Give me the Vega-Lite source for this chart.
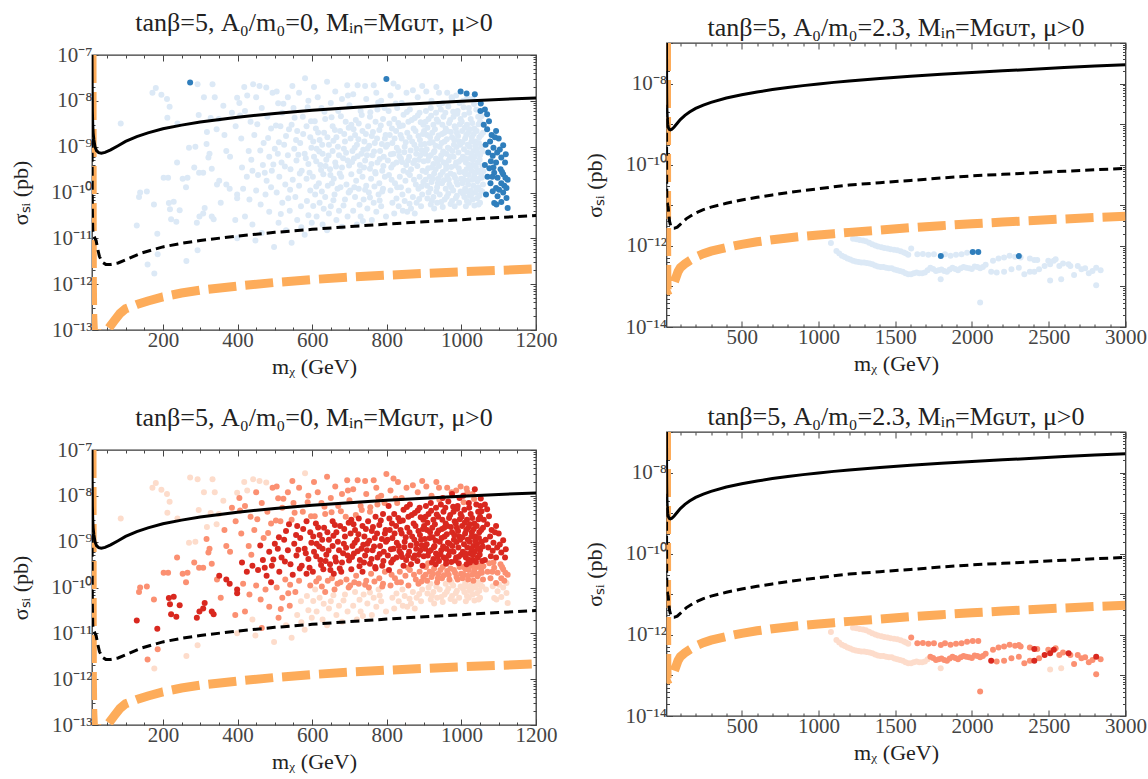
{
  "$schema": "https://vega.github.io/schema/vega-lite/v6.json",
  "background": "white",
  "padding": {"left": 9, "top": 8, "right": 5, "bottom": 5},
  "config": {
    "font": "Liberation Serif",
    "view": {"stroke": "#3a3a3a", "strokeWidth": 1.3},
    "title": {"font": "Liberation Serif", "fontSize": 26, "fontWeight": "normal", "color": "#222", "anchor": "middle"},
    "axis": {"grid": false, "domain": false, "tickColor": "#444", "tickWidth": 1, "labelFont": "Liberation Serif", "labelFontSize": 21, "labelColor": "#444", "titleFont": "Liberation Serif", "titleFontSize": 22, "titleFontWeight": "normal", "titleColor": "#222", "labelFlush": false, "labelOverlap": false}
  },
  "datasets": {
    "curves": [
      {"c": "floor", "m": 10, "s": 1e-7}, {"c": "floor", "m": 10.3, "s": 1e-9}, {"c": "floor", "m": 10.6, "s": 1e-11}, {"c": "floor", "m": 11, "s": 1e-12}, {"c": "floor", "m": 12, "s": 2e-13}, {"c": "floor", "m": 14, "s": 8.5e-14}, {"c": "floor", "m": 25, "s": 8e-14}, {"c": "floor", "m": 40, "s": 8.5e-14}, {"c": "floor", "m": 55, "s": 1.1e-13}, {"c": "floor", "m": 70, "s": 1.6e-13}, {"c": "floor", "m": 85, "s": 2.3e-13}, {"c": "floor", "m": 100, "s": 2.9e-13}, {"c": "floor", "m": 130, "s": 3.6e-13}, {"c": "floor", "m": 160, "s": 4.3e-13}, {"c": "floor", "m": 200, "s": 5.3e-13}, {"c": "floor", "m": 250, "s": 6.4e-13}, {"c": "floor", "m": 300, "s": 7.4e-13}, {"c": "floor", "m": 400, "s": 9.1e-13}, {"c": "floor", "m": 500, "s": 1.09e-12}, {"c": "floor", "m": 600, "s": 1.26e-12}, {"c": "floor", "m": 700, "s": 1.42e-12}, {"c": "floor", "m": 800, "s": 1.57e-12}, {"c": "floor", "m": 900, "s": 1.72e-12}, {"c": "floor", "m": 1000, "s": 1.86e-12}, {"c": "floor", "m": 1100, "s": 2e-12}, {"c": "floor", "m": 1200, "s": 2.15e-12}, {"c": "floor", "m": 1400, "s": 2.45e-12}, {"c": "floor", "m": 1600, "s": 2.8e-12}, {"c": "floor", "m": 1800, "s": 3.15e-12}, {"c": "floor", "m": 2000, "s": 3.5e-12}, {"c": "floor", "m": 2200, "s": 3.85e-12}, {"c": "floor", "m": 2400, "s": 4.2e-12}, {"c": "floor", "m": 2600, "s": 4.6e-12}, {"c": "floor", "m": 2800, "s": 5e-12}, {"c": "floor", "m": 3000, "s": 5.4e-12},
      {"c": "proj", "m": 10, "s": 3e-9}, {"c": "proj", "m": 10.5, "s": 2e-10}, {"c": "proj", "m": 11, "s": 4e-11}, {"c": "proj", "m": 12, "s": 1.5e-11}, {"c": "proj", "m": 15, "s": 1.15e-11}, {"c": "proj", "m": 18, "s": 1e-11}, {"c": "proj", "m": 21, "s": 9e-12}, {"c": "proj", "m": 25, "s": 6e-12}, {"c": "proj", "m": 30, "s": 4e-12}, {"c": "proj", "m": 38, "s": 3e-12}, {"c": "proj", "m": 47, "s": 2.7e-12}, {"c": "proj", "m": 60, "s": 2.7e-12}, {"c": "proj", "m": 80, "s": 2.9e-12}, {"c": "proj", "m": 100, "s": 3.4e-12}, {"c": "proj", "m": 140, "s": 4.7e-12}, {"c": "proj", "m": 200, "s": 6.5e-12}, {"c": "proj", "m": 250, "s": 7.8e-12}, {"c": "proj", "m": 300, "s": 9e-12}, {"c": "proj", "m": 400, "s": 1.12e-11}, {"c": "proj", "m": 500, "s": 1.35e-11}, {"c": "proj", "m": 600, "s": 1.57e-11}, {"c": "proj", "m": 700, "s": 1.8e-11}, {"c": "proj", "m": 800, "s": 2.05e-11}, {"c": "proj", "m": 900, "s": 2.3e-11}, {"c": "proj", "m": 1000, "s": 2.55e-11}, {"c": "proj", "m": 1100, "s": 2.85e-11}, {"c": "proj", "m": 1200, "s": 3.15e-11}, {"c": "proj", "m": 1400, "s": 3.6e-11}, {"c": "proj", "m": 1600, "s": 4.1e-11}, {"c": "proj", "m": 1800, "s": 4.7e-11}, {"c": "proj", "m": 2000, "s": 5.3e-11}, {"c": "proj", "m": 2200, "s": 5.8e-11}, {"c": "proj", "m": 2400, "s": 6.3e-11}, {"c": "proj", "m": 2600, "s": 6.9e-11}, {"c": "proj", "m": 2800, "s": 7.5e-11}, {"c": "proj", "m": 3000, "s": 8.1e-11},
      {"c": "limit", "m": 10, "s": 1e-7}, {"c": "limit", "m": 10.5, "s": 2e-8}, {"c": "limit", "m": 11, "s": 6e-9}, {"c": "limit", "m": 12, "s": 3e-9}, {"c": "limit", "m": 13, "s": 2e-9}, {"c": "limit", "m": 15, "s": 1.4e-9}, {"c": "limit", "m": 18, "s": 1e-9}, {"c": "limit", "m": 22, "s": 8.2e-10}, {"c": "limit", "m": 28, "s": 7.4e-10}, {"c": "limit", "m": 35, "s": 7.2e-10}, {"c": "limit", "m": 45, "s": 7.5e-10}, {"c": "limit", "m": 60, "s": 8.5e-10}, {"c": "limit", "m": 80, "s": 1.05e-9}, {"c": "limit", "m": 100, "s": 1.3e-9}, {"c": "limit", "m": 130, "s": 1.65e-9}, {"c": "limit", "m": 160, "s": 2e-9}, {"c": "limit", "m": 200, "s": 2.45e-9}, {"c": "limit", "m": 250, "s": 2.95e-9}, {"c": "limit", "m": 300, "s": 3.45e-9}, {"c": "limit", "m": 400, "s": 4.4e-9}, {"c": "limit", "m": 500, "s": 5.3e-9}, {"c": "limit", "m": 600, "s": 6.2e-9}, {"c": "limit", "m": 700, "s": 7.1e-9}, {"c": "limit", "m": 800, "s": 8e-9}, {"c": "limit", "m": 900, "s": 8.9e-9}, {"c": "limit", "m": 1000, "s": 9.8e-9}, {"c": "limit", "m": 1100, "s": 1.07e-8}, {"c": "limit", "m": 1200, "s": 1.16e-8}, {"c": "limit", "m": 1400, "s": 1.34e-8}, {"c": "limit", "m": 1600, "s": 1.52e-8}, {"c": "limit", "m": 1800, "s": 1.7e-8}, {"c": "limit", "m": 2000, "s": 1.88e-8}, {"c": "limit", "m": 2200, "s": 2.06e-8}, {"c": "limit", "m": 2400, "s": 2.25e-8}, {"c": "limit", "m": 2600, "s": 2.5e-8}, {"c": "limit", "m": 2800, "s": 2.7e-8}, {"c": "limit", "m": 3000, "s": 2.9e-8}
    ],
    "scanL": [
      {"m": 87, "s": 3.2e-9, "b": 0, "r": 1}, {"m": 172, "s": 1.5e-8, "b": 0, "r": 1}, {"m": 181, "s": 1.9e-8, "b": 0, "r": 1}, {"m": 196, "s": 1.35e-8, "b": 0, "r": 1}, {"m": 211, "s": 1.1e-8, "b": 0, "r": 1}, {"m": 218, "s": 7.4e-9, "b": 0, "r": 1}, {"m": 212, "s": 4.3e-9, "b": 0, "r": 1}, {"m": 239, "s": 3.2e-9, "b": 0, "r": 1}, {"m": 270, "s": 9.5e-10, "b": 0, "r": 1}, {"m": 287, "s": 1e-9, "b": 0, "r": 1}, {"m": 273, "s": 2.5e-8, "b": 1, "r": 1}, {"m": 293, "s": 2.3e-8, "b": 0, "r": 1}, {"m": 296, "s": 4.9e-9, "b": 0, "r": 1}, {"m": 284, "s": 3.5e-10, "b": 0, "r": 2}, {"m": 297, "s": 2.7e-10, "b": 0, "r": 2}, {"m": 266, "s": 2.1e-10, "b": 0, "r": 2}, {"m": 214, "s": 2.1e-10, "b": 0, "r": 2}, {"m": 253, "s": 2e-10, "b": 0, "r": 2}, {"m": 139, "s": 1e-10, "b": 0, "r": 2}, {"m": 136, "s": 8e-11, "b": 0, "r": 2}, {"m": 157, "s": 1.05e-10, "b": 0, "r": 2},
      {"m": 202, "s": 2.1e-10, "b": 0, "r": 2}, {"m": 238, "s": 4.5e-10, "b": 0, "r": 2}, {"m": 262, "s": 1.3e-10, "b": 0, "r": 2}, {"m": 317, "s": 1.15e-9, "b": 0, "r": 2}, {"m": 331, "s": 3.3e-10, "b": 0, "r": 2}, {"m": 176, "s": 5.5e-11, "b": 0, "r": 2}, {"m": 344, "s": 2.4e-9, "b": 0, "r": 1}, {"m": 328, "s": 4.2e-9, "b": 0, "r": 1},
      {"m": 216, "s": 5.9e-11, "b": 0, "r": 3}, {"m": 229, "s": 6.3e-11, "b": 0, "r": 3}, {"m": 219, "s": 4.3e-11, "b": 0, "r": 3}, {"m": 245, "s": 4.1e-11, "b": 0, "r": 3}, {"m": 222, "s": 2.6e-11, "b": 0, "r": 3}, {"m": 236, "s": 2.3e-11, "b": 0, "r": 3}, {"m": 291, "s": 2.2e-11, "b": 0, "r": 3}, {"m": 298, "s": 3e-11, "b": 0, "r": 3}, {"m": 308, "s": 3.5e-11, "b": 0, "r": 3}, {"m": 312, "s": 4.6e-11, "b": 0, "r": 3}, {"m": 331, "s": 3e-11, "b": 0, "r": 3}, {"m": 336, "s": 2.6e-11, "b": 0, "r": 3}, {"m": 130, "s": 1.9e-11, "b": 0, "r": 3}, {"m": 185, "s": 1.26e-11, "b": 0, "r": 3},
      {"m": 159, "s": 2.7e-12, "b": 0, "r": 2}, {"m": 177, "s": 1.7e-12, "b": 0, "r": 1}, {"m": 186, "s": 4.5e-12, "b": 0, "r": 2}, {"m": 263, "s": 3.2e-12, "b": 0, "r": 1}, {"m": 293, "s": 5.5e-12, "b": 0, "r": 1}, {"m": 322, "s": 5.8e-10, "b": 0, "r": 2}, {"m": 308, "s": 2.7e-10, "b": 0, "r": 2},
      {"m": 310, "s": 1.2e-8, "b": 0, "r": 1}, {"m": 318, "s": 2.1e-9, "b": 0, "r": 1}, {"m": 325, "s": 7e-10, "b": 0, "r": 2}, {"m": 333, "s": 2.3e-8, "b": 0, "r": 1}, {"m": 339, "s": 1.2e-8, "b": 0, "r": 1}, {"m": 345, "s": 1.5e-10, "b": 0, "r": 2}, {"m": 350, "s": 4e-9, "b": 0, "r": 1}, {"m": 355, "s": 6e-11, "b": 0, "r": 2}, {"m": 362, "s": 7.8e-9, "b": 0, "r": 1}, {"m": 365, "s": 1.8e-9, "b": 0, "r": 2}, {"m": 370, "s": 8e-10, "b": 0, "r": 2}, {"m": 351, "s": 1.8e-10, "b": 0, "r": 3}, {"m": 370, "s": 1.5e-10, "b": 0, "r": 3}, {"m": 379, "s": 1.2e-10, "b": 0, "r": 3}, {"m": 399, "s": 9e-11, "b": 0, "r": 3}, {"m": 399, "s": 7.5e-11, "b": 0, "r": 3}, {"m": 394, "s": 2.5e-11, "b": 0, "r": 2}, {"m": 399, "s": 1e-11, "b": 0, "r": 1}, {"m": 399, "s": 1.17e-8, "b": 0, "r": 1}, {"m": 385, "s": 5.5e-9, "b": 0, "r": 2}, {"m": 395, "s": 2.8e-9, "b": 0, "r": 2}, {"m": 380, "s": 6e-10, "b": 0, "r": 2},
      {"m": 418, "s": 2e-8, "b": 0, "r": 1}, {"m": 442, "s": 2.3e-8, "b": 0, "r": 1}, {"m": 459, "s": 2.1e-8, "b": 0, "r": 1}, {"m": 477, "s": 1.95e-8, "b": 0, "r": 1}, {"m": 494, "s": 1.5e-8, "b": 0, "r": 2}, {"m": 405, "s": 9e-9, "b": 0, "r": 2}, {"m": 420, "s": 6e-9, "b": 0, "r": 2}, {"m": 435, "s": 3.5e-9, "b": 0, "r": 2}, {"m": 450, "s": 1.2e-8, "b": 0, "r": 2}, {"m": 465, "s": 7e-9, "b": 0, "r": 2}, {"m": 480, "s": 4.5e-9, "b": 0, "r": 2}, {"m": 490, "s": 2.5e-9, "b": 0, "r": 2}, {"m": 410, "s": 1.5e-9, "b": 0, "r": 2}, {"m": 430, "s": 8e-10, "b": 0, "r": 2}, {"m": 445, "s": 1.8e-9, "b": 0, "r": 2}, {"m": 470, "s": 1.2e-9, "b": 0, "r": 2}, {"m": 485, "s": 6e-10, "b": 0, "r": 3}, {"m": 500, "s": 9e-10, "b": 0, "r": 3}, {"m": 412, "s": 3.5e-10, "b": 0, "r": 3}, {"m": 425, "s": 2.2e-10, "b": 0, "r": 3}, {"m": 440, "s": 3e-10, "b": 0, "r": 3}, {"m": 455, "s": 2.4e-10, "b": 0, "r": 3}, {"m": 468, "s": 4e-10, "b": 0, "r": 3}, {"m": 478, "s": 1.8e-10, "b": 0, "r": 3}, {"m": 492, "s": 3e-10, "b": 0, "r": 3}, {"m": 415, "s": 1.2e-10, "b": 0, "r": 2}, {"m": 432, "s": 7e-11, "b": 0, "r": 2}, {"m": 450, "s": 1.1e-10, "b": 0, "r": 2}, {"m": 462, "s": 5.5e-11, "b": 0, "r": 2}, {"m": 475, "s": 9e-11, "b": 0, "r": 2}, {"m": 490, "s": 1.3e-10, "b": 0, "r": 3}, {"m": 420, "s": 3e-11, "b": 0, "r": 2}, {"m": 440, "s": 2e-11, "b": 0, "r": 1}, {"m": 448, "s": 9e-12, "b": 0, "r": 1}, {"m": 465, "s": 1.3e-11, "b": 0, "r": 2}, {"m": 485, "s": 3.8e-11, "b": 0, "r": 2}, {"m": 498, "s": 6.5e-12, "b": 0, "r": 1},
      {"m": 407, "s": 4.8e-9, "b": 0, "r": 2}, {"m": 426, "s": 1.3e-8, "b": 0, "r": 1}, {"m": 437, "s": 5.2e-10, "b": 0, "r": 2}, {"m": 453, "s": 3.1e-9, "b": 0, "r": 2}, {"m": 461, "s": 8.3e-10, "b": 0, "r": 3}, {"m": 473, "s": 2.7e-10, "b": 0, "r": 3}, {"m": 482, "s": 1.55e-9, "b": 0, "r": 2}, {"m": 496, "s": 4.1e-10, "b": 0, "r": 3},
      {"m": 509, "s": 8.9e-9, "b": 0, "r": 2}, {"m": 547, "s": 2.1e-8, "b": 0, "r": 2}, {"m": 581, "s": 3.1e-8, "b": 0, "r": 1}, {"m": 505, "s": 1.6e-8, "b": 0, "r": 2}, {"m": 520, "s": 5.5e-9, "b": 0, "r": 2}, {"m": 535, "s": 1.2e-8, "b": 0, "r": 2}, {"m": 550, "s": 7e-9, "b": 0, "r": 2}, {"m": 565, "s": 1.5e-8, "b": 0, "r": 2}, {"m": 575, "s": 4.5e-9, "b": 0, "r": 2}, {"m": 590, "s": 1e-8, "b": 0, "r": 2}, {"m": 515, "s": 2.8e-9, "b": 0, "r": 2}, {"m": 530, "s": 1.7e-9, "b": 0, "r": 3}, {"m": 545, "s": 3e-9, "b": 0, "r": 2}, {"m": 560, "s": 2.2e-9, "b": 0, "r": 3}, {"m": 585, "s": 2.8e-9, "b": 0, "r": 3}, {"m": 595, "s": 1.6e-9, "b": 0, "r": 3}, {"m": 508, "s": 7e-10, "b": 0, "r": 3}, {"m": 518, "s": 4.5e-10, "b": 0, "r": 3}, {"m": 525, "s": 1.1e-9, "b": 0, "r": 3}, {"m": 535, "s": 6.5e-10, "b": 0, "r": 3}, {"m": 542, "s": 3.2e-10, "b": 0, "r": 3}, {"m": 552, "s": 9e-10, "b": 0, "r": 3}, {"m": 558, "s": 5e-10, "b": 0, "r": 3}, {"m": 568, "s": 1.2e-9, "b": 0, "r": 3}, {"m": 572, "s": 3e-10, "b": 0, "r": 3}, {"m": 580, "s": 7e-10, "b": 0, "r": 3}, {"m": 590, "s": 4.2e-10, "b": 0, "r": 3}, {"m": 598, "s": 9.5e-10, "b": 0, "r": 3}, {"m": 512, "s": 2.2e-10, "b": 0, "r": 3}, {"m": 528, "s": 1.5e-10, "b": 0, "r": 2}, {"m": 548, "s": 1.9e-10, "b": 0, "r": 3}, {"m": 565, "s": 1.4e-10, "b": 0, "r": 2}, {"m": 585, "s": 2e-10, "b": 0, "r": 3}, {"m": 595, "s": 1.1e-10, "b": 0, "r": 2}, {"m": 505, "s": 1e-10, "b": 0, "r": 2}, {"m": 520, "s": 6e-11, "b": 0, "r": 2}, {"m": 540, "s": 4e-11, "b": 0, "r": 2}, {"m": 555, "s": 8e-11, "b": 0, "r": 2}, {"m": 570, "s": 5e-11, "b": 0, "r": 1}, {"m": 590, "s": 3.2e-11, "b": 0, "r": 1}, {"m": 510, "s": 2.2e-11, "b": 0, "r": 2}, {"m": 530, "s": 1.5e-11, "b": 0, "r": 1}, {"m": 560, "s": 2.5e-11, "b": 0, "r": 1}, {"m": 580, "s": 1.2e-11, "b": 0, "r": 1}, {"m": 545, "s": 8e-12, "b": 0, "r": 1},
      {"m": 503, "s": 2.9e-9, "b": 0, "r": 2}, {"m": 511, "s": 1.25e-9, "b": 0, "r": 3}, {"m": 523, "s": 8.6e-9, "b": 0, "r": 2}, {"m": 527, "s": 3.7e-10, "b": 0, "r": 3}, {"m": 538, "s": 2.4e-9, "b": 0, "r": 3}, {"m": 541, "s": 1.15e-10, "b": 0, "r": 2}, {"m": 553, "s": 4.3e-9, "b": 0, "r": 2}, {"m": 557, "s": 1.4e-9, "b": 0, "r": 3}, {"m": 563, "s": 6.7e-10, "b": 0, "r": 3}, {"m": 567, "s": 2.6e-10, "b": 0, "r": 3}, {"m": 576, "s": 1.9e-9, "b": 0, "r": 3}, {"m": 583, "s": 5.6e-10, "b": 0, "r": 3}, {"m": 588, "s": 7.2e-9, "b": 0, "r": 2}, {"m": 593, "s": 2.7e-10, "b": 0, "r": 3}, {"m": 597, "s": 3.6e-9, "b": 0, "r": 2}, {"m": 516, "s": 3.4e-11, "b": 0, "r": 2}, {"m": 536, "s": 7.5e-11, "b": 0, "r": 2}, {"m": 571, "s": 1.75e-11, "b": 0, "r": 1}, {"m": 586, "s": 6.5e-11, "b": 0, "r": 1}, {"m": 599, "s": 2.2e-11, "b": 0, "r": 1},
      {"m": 605, "s": 2e-8, "b": 0, "r": 2}, {"m": 640, "s": 2.6e-8, "b": 0, "r": 2}, {"m": 662, "s": 1.6e-8, "b": 0, "r": 2}, {"m": 694, "s": 2.2e-8, "b": 0, "r": 2}, {"m": 615, "s": 1.2e-8, "b": 0, "r": 2}, {"m": 625, "s": 7e-9, "b": 0, "r": 2}, {"m": 635, "s": 4e-9, "b": 0, "r": 2}, {"m": 650, "s": 9e-9, "b": 0, "r": 2}, {"m": 670, "s": 6e-9, "b": 0, "r": 2}, {"m": 680, "s": 1.1e-8, "b": 0, "r": 2}, {"m": 690, "s": 3.5e-9, "b": 0, "r": 2}, {"m": 700, "s": 8e-9, "b": 0, "r": 2}, {"m": 610, "s": 2.5e-9, "b": 0, "r": 3}, {"m": 620, "s": 1.4e-9, "b": 0, "r": 3}, {"m": 632, "s": 2e-9, "b": 0, "r": 3}, {"m": 645, "s": 1.1e-9, "b": 0, "r": 3}, {"m": 655, "s": 2.8e-9, "b": 0, "r": 3}, {"m": 665, "s": 1.6e-9, "b": 0, "r": 3}, {"m": 675, "s": 2.2e-9, "b": 0, "r": 3}, {"m": 688, "s": 1.3e-9, "b": 0, "r": 3}, {"m": 698, "s": 2.6e-9, "b": 0, "r": 3}, {"m": 605, "s": 6e-10, "b": 0, "r": 3}, {"m": 612, "s": 9e-10, "b": 0, "r": 3}, {"m": 622, "s": 4e-10, "b": 0, "r": 3}, {"m": 628, "s": 7e-10, "b": 0, "r": 3}, {"m": 638, "s": 5.2e-10, "b": 0, "r": 3}, {"m": 648, "s": 3.2e-10, "b": 0, "r": 3}, {"m": 655, "s": 8e-10, "b": 0, "r": 3}, {"m": 662, "s": 4.5e-10, "b": 0, "r": 3}, {"m": 672, "s": 6.5e-10, "b": 0, "r": 3}, {"m": 680, "s": 3.5e-10, "b": 0, "r": 3}, {"m": 685, "s": 9e-10, "b": 0, "r": 3}, {"m": 695, "s": 5e-10, "b": 0, "r": 3}, {"m": 602, "s": 2.2e-10, "b": 0, "r": 3}, {"m": 618, "s": 1.6e-10, "b": 0, "r": 2}, {"m": 630, "s": 2.5e-10, "b": 0, "r": 3}, {"m": 642, "s": 1.4e-10, "b": 0, "r": 2}, {"m": 658, "s": 2e-10, "b": 0, "r": 3}, {"m": 668, "s": 1.2e-10, "b": 0, "r": 2}, {"m": 678, "s": 2.2e-10, "b": 0, "r": 3}, {"m": 692, "s": 1.5e-10, "b": 0, "r": 2}, {"m": 608, "s": 9e-11, "b": 0, "r": 1}, {"m": 620, "s": 6e-11, "b": 0, "r": 1}, {"m": 635, "s": 8e-11, "b": 0, "r": 2}, {"m": 650, "s": 5e-11, "b": 0, "r": 1}, {"m": 660, "s": 9e-11, "b": 0, "r": 2}, {"m": 672, "s": 4e-11, "b": 0, "r": 1}, {"m": 688, "s": 7e-11, "b": 0, "r": 1}, {"m": 698, "s": 1e-10, "b": 0, "r": 2}, {"m": 612, "s": 3e-11, "b": 0, "r": 1}, {"m": 628, "s": 2e-11, "b": 0, "r": 1}, {"m": 645, "s": 3.5e-11, "b": 0, "r": 1}, {"m": 665, "s": 2.5e-11, "b": 0, "r": 1}, {"m": 680, "s": 1.8e-11, "b": 0, "r": 1}, {"m": 695, "s": 3e-11, "b": 0, "r": 1}, {"m": 640, "s": 1.5e-11, "b": 0, "r": 1},
      {"m": 603, "s": 1.3e-9, "b": 0, "r": 3}, {"m": 607, "s": 3.6e-9, "b": 0, "r": 2}, {"m": 611, "s": 4.8e-10, "b": 0, "r": 3}, {"m": 616, "s": 2.05e-9, "b": 0, "r": 3}, {"m": 619, "s": 7.8e-10, "b": 0, "r": 3}, {"m": 624, "s": 3.1e-10, "b": 0, "r": 3}, {"m": 627, "s": 1.1e-9, "b": 0, "r": 3}, {"m": 633, "s": 5.8e-9, "b": 0, "r": 2}, {"m": 636, "s": 3.8e-10, "b": 0, "r": 3}, {"m": 641, "s": 1.6e-9, "b": 0, "r": 3}, {"m": 644, "s": 6.4e-10, "b": 0, "r": 3}, {"m": 649, "s": 2.4e-10, "b": 0, "r": 3}, {"m": 652, "s": 4.4e-9, "b": 0, "r": 2}, {"m": 657, "s": 1.35e-9, "b": 0, "r": 3}, {"m": 661, "s": 2.3e-9, "b": 0, "r": 3}, {"m": 664, "s": 3.7e-10, "b": 0, "r": 3}, {"m": 669, "s": 1e-9, "b": 0, "r": 3}, {"m": 674, "s": 2.6e-10, "b": 0, "r": 3}, {"m": 677, "s": 4.6e-9, "b": 0, "r": 2}, {"m": 683, "s": 5.6e-10, "b": 0, "r": 3}, {"m": 686, "s": 1.9e-9, "b": 0, "r": 3}, {"m": 691, "s": 7.4e-10, "b": 0, "r": 3}, {"m": 696, "s": 1.3e-8, "b": 0, "r": 2}, {"m": 699, "s": 3.9e-10, "b": 0, "r": 3}, {"m": 611, "s": 1.35e-10, "b": 0, "r": 2}, {"m": 626, "s": 1.05e-10, "b": 0, "r": 2}, {"m": 653, "s": 1.6e-10, "b": 0, "r": 2}, {"m": 676, "s": 1.3e-10, "b": 0, "r": 2}, {"m": 684, "s": 5.2e-11, "b": 0, "r": 1}, {"m": 657, "s": 6.8e-11, "b": 0, "r": 1}, {"m": 631, "s": 4.4e-11, "b": 0, "r": 1}, {"m": 603, "s": 5.1e-11, "b": 0, "r": 1},
      {"m": 722, "s": 2.2e-8, "b": 0, "r": 2}, {"m": 742, "s": 2.1e-8, "b": 0, "r": 2}, {"m": 765, "s": 2.2e-8, "b": 0, "r": 2}, {"m": 772, "s": 1.5e-8, "b": 0, "r": 2}, {"m": 785, "s": 1e-8, "b": 0, "r": 2}, {"m": 799, "s": 3e-8, "b": 1, "r": 2}, {"m": 710, "s": 1.4e-8, "b": 0, "r": 2}, {"m": 730, "s": 6e-9, "b": 0, "r": 2}, {"m": 745, "s": 1.1e-8, "b": 0, "r": 2}, {"m": 755, "s": 4.5e-9, "b": 0, "r": 2}, {"m": 775, "s": 6.5e-9, "b": 0, "r": 2}, {"m": 790, "s": 4e-9, "b": 0, "r": 3}, {"m": 705, "s": 3e-9, "b": 0, "r": 3}, {"m": 715, "s": 1.8e-9, "b": 0, "r": 3}, {"m": 725, "s": 3.2e-9, "b": 0, "r": 3}, {"m": 735, "s": 2.2e-9, "b": 0, "r": 3}, {"m": 740, "s": 1.3e-9, "b": 0, "r": 3}, {"m": 750, "s": 2.8e-9, "b": 0, "r": 3}, {"m": 760, "s": 1.7e-9, "b": 0, "r": 3}, {"m": 770, "s": 3.5e-9, "b": 0, "r": 3}, {"m": 780, "s": 2.3e-9, "b": 0, "r": 3}, {"m": 795, "s": 1.5e-9, "b": 0, "r": 3}, {"m": 708, "s": 8e-10, "b": 0, "r": 3}, {"m": 712, "s": 5.5e-10, "b": 0, "r": 3}, {"m": 720, "s": 1.1e-9, "b": 0, "r": 3}, {"m": 728, "s": 4e-10, "b": 0, "r": 3}, {"m": 732, "s": 7e-10, "b": 0, "r": 3}, {"m": 742, "s": 5e-10, "b": 0, "r": 3}, {"m": 748, "s": 9e-10, "b": 0, "r": 3}, {"m": 755, "s": 3.3e-10, "b": 0, "r": 3}, {"m": 762, "s": 6.5e-10, "b": 0, "r": 3}, {"m": 768, "s": 1.2e-9, "b": 0, "r": 3}, {"m": 775, "s": 4.5e-10, "b": 0, "r": 3}, {"m": 782, "s": 8e-10, "b": 0, "r": 3}, {"m": 788, "s": 3e-10, "b": 0, "r": 3}, {"m": 792, "s": 6e-10, "b": 0, "r": 3}, {"m": 798, "s": 1e-9, "b": 0, "r": 3}, {"m": 705, "s": 2.5e-10, "b": 0, "r": 3}, {"m": 718, "s": 1.8e-10, "b": 0, "r": 2}, {"m": 735, "s": 2.2e-10, "b": 0, "r": 3}, {"m": 745, "s": 1.4e-10, "b": 0, "r": 2}, {"m": 758, "s": 2e-10, "b": 0, "r": 2}, {"m": 770, "s": 2.6e-10, "b": 0, "r": 3}, {"m": 780, "s": 1.6e-10, "b": 0, "r": 2}, {"m": 795, "s": 2.2e-10, "b": 0, "r": 2}, {"m": 702, "s": 1.1e-10, "b": 0, "r": 2}, {"m": 715, "s": 8e-11, "b": 0, "r": 1}, {"m": 725, "s": 1.2e-10, "b": 0, "r": 2}, {"m": 738, "s": 7e-11, "b": 0, "r": 1}, {"m": 752, "s": 1e-10, "b": 0, "r": 2}, {"m": 765, "s": 6e-11, "b": 0, "r": 1}, {"m": 778, "s": 9e-11, "b": 0, "r": 1}, {"m": 790, "s": 1.2e-10, "b": 0, "r": 2}, {"m": 710, "s": 4e-11, "b": 0, "r": 1}, {"m": 730, "s": 3e-11, "b": 0, "r": 1}, {"m": 748, "s": 4.5e-11, "b": 0, "r": 1}, {"m": 760, "s": 2.5e-11, "b": 0, "r": 1}, {"m": 772, "s": 3.8e-11, "b": 0, "r": 1}, {"m": 785, "s": 5e-11, "b": 0, "r": 1}, {"m": 798, "s": 3e-11, "b": 0, "r": 1}, {"m": 720, "s": 2e-11, "b": 0, "r": 1},
      {"m": 703, "s": 1.5e-9, "b": 0, "r": 3}, {"m": 707, "s": 4.6e-10, "b": 0, "r": 3}, {"m": 711, "s": 2.4e-9, "b": 0, "r": 3}, {"m": 714, "s": 9.5e-10, "b": 0, "r": 3}, {"m": 717, "s": 3.8e-9, "b": 0, "r": 2}, {"m": 722, "s": 6.2e-10, "b": 0, "r": 3}, {"m": 724, "s": 1.45e-9, "b": 0, "r": 3}, {"m": 727, "s": 2.9e-10, "b": 0, "r": 3}, {"m": 733, "s": 4.9e-9, "b": 0, "r": 2}, {"m": 737, "s": 8.6e-10, "b": 0, "r": 3}, {"m": 739, "s": 3.5e-10, "b": 0, "r": 3}, {"m": 744, "s": 1.9e-9, "b": 0, "r": 3}, {"m": 747, "s": 6.5e-10, "b": 0, "r": 3}, {"m": 753, "s": 1.05e-9, "b": 0, "r": 3}, {"m": 756, "s": 5.6e-9, "b": 0, "r": 2}, {"m": 759, "s": 4.2e-10, "b": 0, "r": 3}, {"m": 763, "s": 2.1e-9, "b": 0, "r": 3}, {"m": 766, "s": 7.8e-10, "b": 0, "r": 3}, {"m": 769, "s": 2.8e-10, "b": 0, "r": 3}, {"m": 774, "s": 1.5e-9, "b": 0, "r": 3}, {"m": 777, "s": 9.2e-9, "b": 0, "r": 2}, {"m": 781, "s": 5.4e-10, "b": 0, "r": 3}, {"m": 784, "s": 2.9e-9, "b": 0, "r": 3}, {"m": 787, "s": 1.15e-9, "b": 0, "r": 3}, {"m": 791, "s": 3.8e-10, "b": 0, "r": 3}, {"m": 794, "s": 7e-9, "b": 0, "r": 2}, {"m": 797, "s": 1.8e-9, "b": 0, "r": 3}, {"m": 713, "s": 1.3e-10, "b": 0, "r": 2}, {"m": 742, "s": 1.15e-10, "b": 0, "r": 2}, {"m": 767, "s": 1.35e-10, "b": 0, "r": 2}, {"m": 788, "s": 1.05e-10, "b": 0, "r": 2}, {"m": 727, "s": 5.4e-11, "b": 0, "r": 1}, {"m": 755, "s": 7.8e-11, "b": 0, "r": 1}, {"m": 781, "s": 6.7e-11, "b": 0, "r": 1}, {"m": 736, "s": 2.4e-11, "b": 0, "r": 1},
      {"m": 818, "s": 2.4e-8, "b": 0, "r": 2}, {"m": 830, "s": 2e-8, "b": 0, "r": 2}, {"m": 853, "s": 1.5e-8, "b": 0, "r": 2}, {"m": 883, "s": 1.2e-8, "b": 0, "r": 2}, {"m": 810, "s": 1.3e-8, "b": 0, "r": 2}, {"m": 840, "s": 9e-9, "b": 0, "r": 2}, {"m": 870, "s": 1.7e-8, "b": 0, "r": 2}, {"m": 895, "s": 2.1e-8, "b": 0, "r": 2}, {"m": 805, "s": 6e-9, "b": 0, "r": 3}, {"m": 820, "s": 4e-9, "b": 0, "r": 3}, {"m": 828, "s": 7e-9, "b": 0, "r": 2}, {"m": 835, "s": 2.8e-9, "b": 0, "r": 3}, {"m": 845, "s": 5e-9, "b": 0, "r": 3}, {"m": 858, "s": 3.5e-9, "b": 0, "r": 3}, {"m": 862, "s": 6.5e-9, "b": 0, "r": 3}, {"m": 875, "s": 4.2e-9, "b": 0, "r": 3}, {"m": 888, "s": 5.5e-9, "b": 0, "r": 3}, {"m": 898, "s": 3e-9, "b": 0, "r": 3}, {"m": 808, "s": 1.8e-9, "b": 0, "r": 3}, {"m": 815, "s": 1.2e-9, "b": 0, "r": 3}, {"m": 825, "s": 2.2e-9, "b": 0, "r": 3}, {"m": 832, "s": 8e-10, "b": 0, "r": 3}, {"m": 840, "s": 1.5e-9, "b": 0, "r": 3}, {"m": 848, "s": 1e-9, "b": 0, "r": 3}, {"m": 855, "s": 2e-9, "b": 0, "r": 3}, {"m": 860, "s": 6e-10, "b": 0, "r": 3}, {"m": 868, "s": 1.3e-9, "b": 0, "r": 3}, {"m": 872, "s": 2.5e-9, "b": 0, "r": 3}, {"m": 880, "s": 9e-10, "b": 0, "r": 3}, {"m": 885, "s": 1.7e-9, "b": 0, "r": 3}, {"m": 892, "s": 1.1e-9, "b": 0, "r": 3}, {"m": 900, "s": 2.2e-9, "b": 0, "r": 3}, {"m": 803, "s": 5e-10, "b": 0, "r": 3}, {"m": 812, "s": 3.5e-10, "b": 0, "r": 3}, {"m": 818, "s": 7e-10, "b": 0, "r": 3}, {"m": 826, "s": 4.5e-10, "b": 0, "r": 3}, {"m": 838, "s": 5.5e-10, "b": 0, "r": 3}, {"m": 845, "s": 3e-10, "b": 0, "r": 3}, {"m": 852, "s": 4e-10, "b": 0, "r": 3}, {"m": 865, "s": 3.2e-10, "b": 0, "r": 3}, {"m": 875, "s": 5e-10, "b": 0, "r": 3}, {"m": 882, "s": 3.8e-10, "b": 0, "r": 3}, {"m": 890, "s": 6.5e-10, "b": 0, "r": 3}, {"m": 896, "s": 3e-10, "b": 0, "r": 3}, {"m": 806, "s": 2.4e-10, "b": 0, "r": 3}, {"m": 822, "s": 1.6e-10, "b": 0, "r": 2}, {"m": 835, "s": 2.2e-10, "b": 0, "r": 2}, {"m": 850, "s": 1.8e-10, "b": 0, "r": 2}, {"m": 862, "s": 2.4e-10, "b": 0, "r": 2}, {"m": 878, "s": 1.5e-10, "b": 0, "r": 2}, {"m": 888, "s": 2.2e-10, "b": 0, "r": 2}, {"m": 898, "s": 1.7e-10, "b": 0, "r": 2}, {"m": 810, "s": 1.1e-10, "b": 0, "r": 2}, {"m": 828, "s": 1.3e-10, "b": 0, "r": 2}, {"m": 842, "s": 9e-11, "b": 0, "r": 1}, {"m": 858, "s": 1.1e-10, "b": 0, "r": 2}, {"m": 870, "s": 8e-11, "b": 0, "r": 1}, {"m": 885, "s": 1.2e-10, "b": 0, "r": 2}, {"m": 895, "s": 9e-11, "b": 0, "r": 1}, {"m": 815, "s": 6e-11, "b": 0, "r": 1}, {"m": 832, "s": 5e-11, "b": 0, "r": 1}, {"m": 848, "s": 6.5e-11, "b": 0, "r": 1}, {"m": 865, "s": 4.5e-11, "b": 0, "r": 1}, {"m": 880, "s": 6e-11, "b": 0, "r": 1}, {"m": 892, "s": 5e-11, "b": 0, "r": 1}, {"m": 820, "s": 3.5e-11, "b": 0, "r": 1}, {"m": 855, "s": 3.8e-11, "b": 0, "r": 1}, {"m": 875, "s": 3.5e-11, "b": 0, "r": 1},
      {"m": 802, "s": 1.1e-9, "b": 0, "r": 3}, {"m": 807, "s": 3.2e-9, "b": 0, "r": 3}, {"m": 811, "s": 6.8e-10, "b": 0, "r": 3}, {"m": 814, "s": 2.5e-9, "b": 0, "r": 3}, {"m": 817, "s": 4.1e-10, "b": 0, "r": 3}, {"m": 821, "s": 1.5e-9, "b": 0, "r": 3}, {"m": 824, "s": 8.8e-9, "b": 0, "r": 2}, {"m": 827, "s": 9.5e-10, "b": 0, "r": 3}, {"m": 831, "s": 3.3e-9, "b": 0, "r": 3}, {"m": 834, "s": 6.2e-10, "b": 0, "r": 3}, {"m": 837, "s": 1.8e-9, "b": 0, "r": 3}, {"m": 841, "s": 4.6e-10, "b": 0, "r": 3}, {"m": 843, "s": 2.9e-9, "b": 0, "r": 3}, {"m": 847, "s": 7.6e-10, "b": 0, "r": 3}, {"m": 851, "s": 1.25e-9, "b": 0, "r": 3}, {"m": 854, "s": 5.7e-9, "b": 0, "r": 3}, {"m": 857, "s": 5e-10, "b": 0, "r": 3}, {"m": 861, "s": 1.6e-9, "b": 0, "r": 3}, {"m": 864, "s": 8.2e-10, "b": 0, "r": 3}, {"m": 867, "s": 3.8e-9, "b": 0, "r": 3}, {"m": 871, "s": 4.4e-10, "b": 0, "r": 3}, {"m": 874, "s": 1.1e-9, "b": 0, "r": 3}, {"m": 877, "s": 2.2e-9, "b": 0, "r": 3}, {"m": 879, "s": 7e-10, "b": 0, "r": 3}, {"m": 883, "s": 4.8e-9, "b": 0, "r": 3}, {"m": 886, "s": 5.2e-10, "b": 0, "r": 3}, {"m": 889, "s": 1.4e-9, "b": 0, "r": 3}, {"m": 891, "s": 3.4e-9, "b": 0, "r": 3}, {"m": 894, "s": 8.4e-10, "b": 0, "r": 3}, {"m": 897, "s": 1.9e-9, "b": 0, "r": 3}, {"m": 899, "s": 4.8e-10, "b": 0, "r": 3}, {"m": 813, "s": 1.9e-10, "b": 0, "r": 2}, {"m": 838, "s": 1.3e-10, "b": 0, "r": 2}, {"m": 857, "s": 2.7e-10, "b": 0, "r": 2}, {"m": 873, "s": 1.9e-10, "b": 0, "r": 2}, {"m": 893, "s": 1.35e-10, "b": 0, "r": 2}, {"m": 826, "s": 7.4e-11, "b": 0, "r": 1}, {"m": 861, "s": 5.7e-11, "b": 0, "r": 1}, {"m": 887, "s": 7.2e-11, "b": 0, "r": 1}, {"m": 843, "s": 4e-11, "b": 0, "r": 1},
      {"m": 906, "s": 1.6e-8, "b": 0, "r": 2}, {"m": 933, "s": 2e-8, "b": 0, "r": 2}, {"m": 940, "s": 1.5e-8, "b": 0, "r": 2}, {"m": 962, "s": 1.5e-8, "b": 0, "r": 2}, {"m": 986, "s": 1.3e-8, "b": 0, "r": 2}, {"m": 920, "s": 1e-8, "b": 0, "r": 2}, {"m": 950, "s": 9e-9, "b": 0, "r": 3}, {"m": 975, "s": 1.1e-8, "b": 0, "r": 3}, {"m": 995, "s": 9e-9, "b": 0, "r": 3}, {"m": 905, "s": 6e-9, "b": 0, "r": 3}, {"m": 912, "s": 4e-9, "b": 0, "r": 3}, {"m": 918, "s": 7e-9, "b": 0, "r": 3}, {"m": 925, "s": 3e-9, "b": 0, "r": 3}, {"m": 932, "s": 5.5e-9, "b": 0, "r": 3}, {"m": 938, "s": 3.5e-9, "b": 0, "r": 3}, {"m": 945, "s": 6.5e-9, "b": 0, "r": 3}, {"m": 952, "s": 4.5e-9, "b": 0, "r": 3}, {"m": 958, "s": 2.5e-9, "b": 0, "r": 3}, {"m": 965, "s": 7.5e-9, "b": 0, "r": 3}, {"m": 970, "s": 3.8e-9, "b": 0, "r": 3}, {"m": 978, "s": 5.8e-9, "b": 0, "r": 3}, {"m": 982, "s": 2.8e-9, "b": 0, "r": 3}, {"m": 990, "s": 6e-9, "b": 0, "r": 3}, {"m": 998, "s": 4e-9, "b": 0, "r": 3}, {"m": 908, "s": 1.8e-9, "b": 0, "r": 3}, {"m": 915, "s": 1.2e-9, "b": 0, "r": 3}, {"m": 922, "s": 2e-9, "b": 0, "r": 3}, {"m": 928, "s": 8e-10, "b": 0, "r": 3}, {"m": 935, "s": 1.5e-9, "b": 0, "r": 3}, {"m": 942, "s": 1e-9, "b": 0, "r": 3}, {"m": 948, "s": 1.9e-9, "b": 0, "r": 3}, {"m": 955, "s": 1.3e-9, "b": 0, "r": 3}, {"m": 962, "s": 2.2e-9, "b": 0, "r": 3}, {"m": 968, "s": 9e-10, "b": 0, "r": 3}, {"m": 975, "s": 1.6e-9, "b": 0, "r": 3}, {"m": 980, "s": 1.1e-9, "b": 0, "r": 3}, {"m": 988, "s": 2e-9, "b": 0, "r": 3}, {"m": 994, "s": 1.3e-9, "b": 0, "r": 3}, {"m": 903, "s": 7e-10, "b": 0, "r": 3}, {"m": 910, "s": 5e-10, "b": 0, "r": 3}, {"m": 918, "s": 6.5e-10, "b": 0, "r": 3}, {"m": 925, "s": 4.2e-10, "b": 0, "r": 3}, {"m": 932, "s": 5.5e-10, "b": 0, "r": 3}, {"m": 940, "s": 3.8e-10, "b": 0, "r": 3}, {"m": 946, "s": 6.5e-10, "b": 0, "r": 3}, {"m": 953, "s": 4.5e-10, "b": 0, "r": 3}, {"m": 960, "s": 7e-10, "b": 0, "r": 3}, {"m": 966, "s": 5e-10, "b": 0, "r": 3}, {"m": 973, "s": 3.6e-10, "b": 0, "r": 3}, {"m": 979, "s": 6e-10, "b": 0, "r": 3}, {"m": 986, "s": 4.5e-10, "b": 0, "r": 3}, {"m": 992, "s": 7.5e-10, "b": 0, "r": 3}, {"m": 999, "s": 5.2e-10, "b": 0, "r": 3}, {"m": 905, "s": 2.8e-10, "b": 0, "r": 2}, {"m": 915, "s": 2.2e-10, "b": 0, "r": 2}, {"m": 927, "s": 2.6e-10, "b": 0, "r": 2}, {"m": 938, "s": 2e-10, "b": 0, "r": 2}, {"m": 950, "s": 2.8e-10, "b": 0, "r": 2}, {"m": 962, "s": 2.3e-10, "b": 0, "r": 2}, {"m": 971, "s": 2.6e-10, "b": 0, "r": 2}, {"m": 983, "s": 2.1e-10, "b": 0, "r": 2}, {"m": 995, "s": 2.8e-10, "b": 0, "r": 2}, {"m": 908, "s": 1.4e-10, "b": 0, "r": 2}, {"m": 920, "s": 1.7e-10, "b": 0, "r": 2}, {"m": 935, "s": 1.3e-10, "b": 0, "r": 2}, {"m": 948, "s": 1.6e-10, "b": 0, "r": 2}, {"m": 958, "s": 1.2e-10, "b": 0, "r": 1}, {"m": 968, "s": 1.5e-10, "b": 0, "r": 2}, {"m": 978, "s": 1.1e-10, "b": 0, "r": 1}, {"m": 990, "s": 1.5e-10, "b": 0, "r": 2}, {"m": 912, "s": 1e-10, "b": 0, "r": 1}, {"m": 925, "s": 8e-11, "b": 0, "r": 1}, {"m": 942, "s": 9e-11, "b": 0, "r": 1}, {"m": 955, "s": 7e-11, "b": 0, "r": 1}, {"m": 965, "s": 9.5e-11, "b": 0, "r": 1}, {"m": 975, "s": 6.5e-11, "b": 0, "r": 1}, {"m": 988, "s": 8.5e-11, "b": 0, "r": 1}, {"m": 998, "s": 1.05e-10, "b": 0, "r": 1}, {"m": 918, "s": 5.5e-11, "b": 0, "r": 1}, {"m": 935, "s": 6e-11, "b": 0, "r": 1}, {"m": 950, "s": 4.8e-11, "b": 0, "r": 1}, {"m": 982, "s": 5e-11, "b": 0, "r": 1},
      {"m": 902, "s": 1.15e-9, "b": 0, "r": 3}, {"m": 904, "s": 3.5e-9, "b": 0, "r": 3}, {"m": 907, "s": 8.8e-10, "b": 0, "r": 3}, {"m": 909, "s": 2.6e-9, "b": 0, "r": 3}, {"m": 913, "s": 6e-10, "b": 0, "r": 3}, {"m": 916, "s": 1.6e-9, "b": 0, "r": 3}, {"m": 919, "s": 4.7e-9, "b": 0, "r": 3}, {"m": 921, "s": 3.5e-10, "b": 0, "r": 3}, {"m": 923, "s": 1.25e-9, "b": 0, "r": 3}, {"m": 926, "s": 7.6e-10, "b": 0, "r": 3}, {"m": 929, "s": 2.4e-9, "b": 0, "r": 3}, {"m": 931, "s": 1.05e-9, "b": 0, "r": 3}, {"m": 934, "s": 3.9e-9, "b": 0, "r": 3}, {"m": 936, "s": 4.6e-10, "b": 0, "r": 3}, {"m": 939, "s": 1.75e-9, "b": 0, "r": 3}, {"m": 941, "s": 8.2e-9, "b": 0, "r": 2}, {"m": 944, "s": 5.3e-10, "b": 0, "r": 3}, {"m": 947, "s": 1.2e-9, "b": 0, "r": 3}, {"m": 949, "s": 3e-9, "b": 0, "r": 3}, {"m": 951, "s": 7.8e-10, "b": 0, "r": 3}, {"m": 954, "s": 2e-9, "b": 0, "r": 3}, {"m": 957, "s": 5.5e-9, "b": 0, "r": 3}, {"m": 959, "s": 4e-10, "b": 0, "r": 3}, {"m": 961, "s": 1.45e-9, "b": 0, "r": 3}, {"m": 964, "s": 9.5e-10, "b": 0, "r": 3}, {"m": 967, "s": 3.3e-9, "b": 0, "r": 3}, {"m": 969, "s": 6.1e-10, "b": 0, "r": 3}, {"m": 972, "s": 2.1e-9, "b": 0, "r": 3}, {"m": 974, "s": 1.2e-8, "b": 0, "r": 2}, {"m": 976, "s": 8e-10, "b": 0, "r": 3}, {"m": 979, "s": 4.5e-9, "b": 0, "r": 3}, {"m": 981, "s": 1.4e-9, "b": 0, "r": 3}, {"m": 984, "s": 3.9e-10, "b": 0, "r": 3}, {"m": 985, "s": 2.5e-9, "b": 0, "r": 3}, {"m": 987, "s": 9.8e-10, "b": 0, "r": 3}, {"m": 989, "s": 5.2e-9, "b": 0, "r": 3}, {"m": 991, "s": 1.7e-9, "b": 0, "r": 3}, {"m": 993, "s": 4.7e-10, "b": 0, "r": 3}, {"m": 996, "s": 3.1e-9, "b": 0, "r": 3}, {"m": 997, "s": 1.1e-9, "b": 0, "r": 3}, {"m": 904, "s": 1.9e-10, "b": 0, "r": 2}, {"m": 911, "s": 3.4e-10, "b": 0, "r": 2}, {"m": 917, "s": 1.2e-10, "b": 0, "r": 1}, {"m": 924, "s": 2e-10, "b": 0, "r": 2}, {"m": 931, "s": 3.2e-10, "b": 0, "r": 3}, {"m": 937, "s": 1.6e-10, "b": 0, "r": 2}, {"m": 944, "s": 2.4e-10, "b": 0, "r": 2}, {"m": 953, "s": 1.85e-10, "b": 0, "r": 2}, {"m": 959, "s": 3.3e-10, "b": 0, "r": 3}, {"m": 966, "s": 1.9e-10, "b": 0, "r": 2}, {"m": 973, "s": 1.3e-10, "b": 0, "r": 1}, {"m": 980, "s": 2.4e-10, "b": 0, "r": 2}, {"m": 987, "s": 1.7e-10, "b": 0, "r": 2}, {"m": 993, "s": 3.4e-10, "b": 0, "r": 3}, {"m": 999, "s": 2e-10, "b": 0, "r": 2}, {"m": 909, "s": 7.4e-11, "b": 0, "r": 1}, {"m": 921, "s": 6.6e-11, "b": 0, "r": 1}, {"m": 933, "s": 1.05e-10, "b": 0, "r": 1}, {"m": 946, "s": 6.2e-11, "b": 0, "r": 1}, {"m": 961, "s": 8.1e-11, "b": 0, "r": 1}, {"m": 971, "s": 5.6e-11, "b": 0, "r": 1}, {"m": 985, "s": 7.6e-11, "b": 0, "r": 1}, {"m": 994, "s": 6e-11, "b": 0, "r": 1}, {"m": 927, "s": 4.5e-11, "b": 0, "r": 1},
      {"m": 998, "s": 1.6e-8, "b": 1, "r": 2}, {"m": 1014, "s": 1.45e-8, "b": 1, "r": 2}, {"m": 1036, "s": 1.4e-8, "b": 1, "r": 3}, {"m": 1052, "s": 8.7e-9, "b": 1, "r": 3}, {"m": 1051, "s": 6e-9, "b": 1, "r": 3}, {"m": 1005, "s": 1e-8, "b": 0, "r": 3}, {"m": 1020, "s": 7e-9, "b": 0, "r": 3}, {"m": 1030, "s": 1.1e-8, "b": 0, "r": 2}, {"m": 1045, "s": 4.5e-9, "b": 0, "r": 3}, {"m": 1008, "s": 5e-9, "b": 0, "r": 3}, {"m": 1015, "s": 3e-9, "b": 0, "r": 3}, {"m": 1025, "s": 4e-9, "b": 0, "r": 3}, {"m": 1035, "s": 2.5e-9, "b": 0, "r": 3}, {"m": 1040, "s": 6.5e-9, "b": 0, "r": 3}, {"m": 1050, "s": 3.5e-9, "b": 0, "r": 3}, {"m": 1058, "s": 2e-9, "b": 0, "r": 3}, {"m": 1002, "s": 2.2e-9, "b": 0, "r": 3}, {"m": 1010, "s": 1.5e-9, "b": 0, "r": 3}, {"m": 1018, "s": 2e-9, "b": 0, "r": 3}, {"m": 1022, "s": 1e-9, "b": 0, "r": 3}, {"m": 1028, "s": 1.6e-9, "b": 0, "r": 3}, {"m": 1032, "s": 8e-10, "b": 0, "r": 3}, {"m": 1038, "s": 1.3e-9, "b": 0, "r": 3}, {"m": 1042, "s": 9e-10, "b": 0, "r": 3}, {"m": 1048, "s": 1.6e-9, "b": 0, "r": 3}, {"m": 1055, "s": 1e-9, "b": 0, "r": 3}, {"m": 1004, "s": 6e-10, "b": 0, "r": 3}, {"m": 1012, "s": 4.5e-10, "b": 0, "r": 3}, {"m": 1016, "s": 7.5e-10, "b": 0, "r": 3}, {"m": 1024, "s": 5.5e-10, "b": 0, "r": 3}, {"m": 1030, "s": 4e-10, "b": 0, "r": 3}, {"m": 1036, "s": 6e-10, "b": 0, "r": 3}, {"m": 1044, "s": 4.5e-10, "b": 0, "r": 3}, {"m": 1050, "s": 6.5e-10, "b": 0, "r": 3}, {"m": 1056, "s": 3.8e-10, "b": 0, "r": 3}, {"m": 1006, "s": 2.8e-10, "b": 0, "r": 2}, {"m": 1014, "s": 3.2e-10, "b": 0, "r": 3}, {"m": 1020, "s": 2.4e-10, "b": 0, "r": 2}, {"m": 1027, "s": 3e-10, "b": 0, "r": 2}, {"m": 1034, "s": 2.2e-10, "b": 0, "r": 2}, {"m": 1040, "s": 2.8e-10, "b": 0, "r": 2}, {"m": 1047, "s": 2e-10, "b": 0, "r": 2}, {"m": 1053, "s": 2.5e-10, "b": 0, "r": 2}, {"m": 1003, "s": 1.6e-10, "b": 0, "r": 2}, {"m": 1010, "s": 1.2e-10, "b": 0, "r": 1}, {"m": 1018, "s": 1.5e-10, "b": 0, "r": 2}, {"m": 1025, "s": 1.1e-10, "b": 0, "r": 1}, {"m": 1032, "s": 1.4e-10, "b": 0, "r": 2}, {"m": 1038, "s": 1e-10, "b": 0, "r": 1}, {"m": 1045, "s": 1.3e-10, "b": 0, "r": 1}, {"m": 1052, "s": 1.1e-10, "b": 0, "r": 1}, {"m": 1058, "s": 1.5e-10, "b": 0, "r": 2}, {"m": 1008, "s": 8e-11, "b": 0, "r": 1}, {"m": 1015, "s": 6.5e-11, "b": 0, "r": 1}, {"m": 1022, "s": 8.5e-11, "b": 0, "r": 1}, {"m": 1030, "s": 7e-11, "b": 0, "r": 1}, {"m": 1042, "s": 7.5e-11, "b": 0, "r": 1}, {"m": 1050, "s": 6e-11, "b": 0, "r": 1}, {"m": 1012, "s": 5e-11, "b": 0, "r": 1}, {"m": 1035, "s": 5.2e-11, "b": 0, "r": 1},
      {"m": 1001, "s": 3.5e-9, "b": 0, "r": 3}, {"m": 1003, "s": 1.25e-9, "b": 0, "r": 3}, {"m": 1006, "s": 7.2e-9, "b": 0, "r": 2}, {"m": 1007, "s": 8.8e-10, "b": 0, "r": 3}, {"m": 1009, "s": 2.6e-9, "b": 0, "r": 3}, {"m": 1011, "s": 5.5e-10, "b": 0, "r": 3}, {"m": 1013, "s": 1.8e-9, "b": 0, "r": 3}, {"m": 1016, "s": 1.2e-8, "b": 0, "r": 2}, {"m": 1017, "s": 1.1e-9, "b": 0, "r": 3}, {"m": 1019, "s": 4.1e-10, "b": 0, "r": 3}, {"m": 1021, "s": 5.5e-9, "b": 0, "r": 3}, {"m": 1023, "s": 2.4e-9, "b": 0, "r": 3}, {"m": 1026, "s": 7e-10, "b": 0, "r": 3}, {"m": 1027, "s": 1.3e-9, "b": 0, "r": 3}, {"m": 1029, "s": 3.3e-9, "b": 0, "r": 3}, {"m": 1031, "s": 5.1e-10, "b": 0, "r": 3}, {"m": 1033, "s": 1.9e-9, "b": 0, "r": 3}, {"m": 1034, "s": 8.5e-9, "b": 0, "r": 2}, {"m": 1037, "s": 1.05e-9, "b": 0, "r": 3}, {"m": 1039, "s": 3.6e-10, "b": 0, "r": 3}, {"m": 1041, "s": 2.2e-9, "b": 0, "r": 3}, {"m": 1043, "s": 7.4e-10, "b": 0, "r": 3}, {"m": 1046, "s": 3.1e-9, "b": 0, "r": 3}, {"m": 1047, "s": 1.2e-9, "b": 0, "r": 3}, {"m": 1049, "s": 5.2e-10, "b": 0, "r": 3}, {"m": 1053, "s": 1.8e-9, "b": 0, "r": 3}, {"m": 1054, "s": 4.6e-9, "b": 0, "r": 3}, {"m": 1057, "s": 7.8e-10, "b": 0, "r": 3}, {"m": 1059, "s": 2.9e-10, "b": 0, "r": 2}, {"m": 1005, "s": 1.95e-10, "b": 0, "r": 2}, {"m": 1011, "s": 2.5e-10, "b": 0, "r": 2}, {"m": 1017, "s": 1.8e-10, "b": 0, "r": 2}, {"m": 1023, "s": 3.5e-10, "b": 0, "r": 3}, {"m": 1029, "s": 1.9e-10, "b": 0, "r": 2}, {"m": 1036, "s": 2.6e-10, "b": 0, "r": 2}, {"m": 1043, "s": 1.75e-10, "b": 0, "r": 2}, {"m": 1049, "s": 3e-10, "b": 0, "r": 2}, {"m": 1055, "s": 2.1e-10, "b": 0, "r": 2}, {"m": 1004, "s": 9.5e-11, "b": 0, "r": 1}, {"m": 1016, "s": 1.05e-10, "b": 0, "r": 1}, {"m": 1027, "s": 9e-11, "b": 0, "r": 1}, {"m": 1040, "s": 1.15e-10, "b": 0, "r": 1}, {"m": 1048, "s": 8.5e-11, "b": 0, "r": 1}, {"m": 1056, "s": 1.05e-10, "b": 0, "r": 1}, {"m": 1020, "s": 6e-11, "b": 0, "r": 1}, {"m": 1046, "s": 5.5e-11, "b": 0, "r": 1},
      {"m": 1069, "s": 5.1e-9, "b": 1, "r": 3}, {"m": 1074, "s": 3.6e-9, "b": 1, "r": 3}, {"m": 1069, "s": 2.4e-9, "b": 1, "r": 3}, {"m": 1081, "s": 1.8e-9, "b": 1, "r": 3}, {"m": 1093, "s": 2.2e-9, "b": 1, "r": 3}, {"m": 1077, "s": 1.3e-9, "b": 1, "r": 3}, {"m": 1100, "s": 1.5e-9, "b": 1, "r": 3}, {"m": 1086, "s": 9.5e-10, "b": 1, "r": 3}, {"m": 1112, "s": 1.07e-9, "b": 1, "r": 3}, {"m": 1103, "s": 8.7e-10, "b": 1, "r": 3}, {"m": 1119, "s": 6.8e-10, "b": 1, "r": 3}, {"m": 1084, "s": 6.3e-10, "b": 1, "r": 3}, {"m": 1107, "s": 5.8e-10, "b": 1, "r": 3}, {"m": 1093, "s": 4.5e-10, "b": 1, "r": 3}, {"m": 1117, "s": 4.5e-10, "b": 1, "r": 3}, {"m": 1086, "s": 3.5e-10, "b": 1, "r": 2}, {"m": 1105, "s": 3.2e-10, "b": 1, "r": 2}, {"m": 1088, "s": 2.7e-10, "b": 1, "r": 2}, {"m": 1112, "s": 2.5e-10, "b": 1, "r": 2}, {"m": 1124, "s": 1.9e-10, "b": 1, "r": 2}, {"m": 1097, "s": 2.1e-10, "b": 1, "r": 2}, {"m": 1078, "s": 1.6e-10, "b": 1, "r": 2}, {"m": 1107, "s": 1.6e-10, "b": 1, "r": 2}, {"m": 1121, "s": 1.26e-10, "b": 1, "r": 1}, {"m": 1093, "s": 1.26e-10, "b": 1, "r": 2}, {"m": 1084, "s": 1.07e-10, "b": 1, "r": 1}, {"m": 1112, "s": 1e-10, "b": 1, "r": 1}, {"m": 1097, "s": 8.3e-11, "b": 1, "r": 1}, {"m": 1121, "s": 7.6e-11, "b": 1, "r": 1}, {"m": 1088, "s": 5.9e-11, "b": 1, "r": 1}, {"m": 1107, "s": 6.2e-11, "b": 1, "r": 1}, {"m": 1124, "s": 4.6e-11, "b": 1, "r": 1}, {"m": 1060, "s": 3e-9, "b": 1, "r": 3}, {"m": 1065, "s": 1.1e-9, "b": 1, "r": 3}, {"m": 1063, "s": 4e-10, "b": 1, "r": 3}, {"m": 1070, "s": 2.2e-10, "b": 1, "r": 2}, {"m": 1066, "s": 9e-11, "b": 1, "r": 1},
      {"m": 1072, "s": 7.5e-10, "b": 1, "r": 3}, {"m": 1079, "s": 4.8e-10, "b": 1, "r": 3}, {"m": 1090, "s": 1.6e-9, "b": 1, "r": 3}, {"m": 1096, "s": 7.5e-10, "b": 1, "r": 3}, {"m": 1109, "s": 2.8e-10, "b": 1, "r": 2}, {"m": 1115, "s": 1.4e-10, "b": 1, "r": 2}, {"m": 1101, "s": 1.15e-10, "b": 1, "r": 1}, {"m": 1083, "s": 2.2e-10, "b": 1, "r": 2}, {"m": 1075, "s": 3.4e-10, "b": 1, "r": 2}, {"m": 1094, "s": 5.5e-11, "b": 1, "r": 1}, {"m": 1063, "s": 6.5e-9, "b": 1, "r": 3}, {"m": 1118, "s": 2.1e-10, "b": 1, "r": 2}
    ],
    "scanR": [
      {"m": 1081, "s": 1.17e-12, "b": 0, "r": 1}, {"m": 1225, "s": 1.5e-12, "b": 0, "r": 1}, {"m": 1247, "s": 1.45e-12, "b": 0, "r": 1}, {"m": 1268, "s": 1.4e-12, "b": 0, "r": 1}, {"m": 1290, "s": 1.35e-12, "b": 0, "r": 1}, {"m": 1309, "s": 1.3e-12, "b": 0, "r": 1}, {"m": 1330, "s": 1.2e-12, "b": 0, "r": 1}, {"m": 1350, "s": 1.1e-12, "b": 0, "r": 1}, {"m": 1370, "s": 1.02e-12, "b": 0, "r": 1}, {"m": 1388, "s": 9.6e-13, "b": 0, "r": 1}, {"m": 1410, "s": 9.2e-13, "b": 0, "r": 1}, {"m": 1429, "s": 8.9e-13, "b": 0, "r": 1}, {"m": 1450, "s": 8.6e-13, "b": 0, "r": 1}, {"m": 1470, "s": 8.3e-13, "b": 0, "r": 1}, {"m": 1492, "s": 8e-13, "b": 0, "r": 1}, {"m": 1513, "s": 7.8e-13, "b": 0, "r": 1}, {"m": 1535, "s": 7.4e-13, "b": 0, "r": 1}, {"m": 1556, "s": 6.9e-13, "b": 0, "r": 1}, {"m": 1570, "s": 6.5e-13, "b": 0, "r": 1}, {"m": 1585, "s": 6e-13, "b": 0, "r": 1}, {"m": 1604, "s": 8.6e-13, "b": 0, "r": 2}, {"m": 1644, "s": 6.2e-13, "b": 0, "r": 2}, {"m": 1680, "s": 6.3e-13, "b": 0, "r": 2}, {"m": 1716, "s": 6e-13, "b": 0, "r": 2}, {"m": 1752, "s": 6.2e-13, "b": 0, "r": 2}, {"m": 1797, "s": 5.6e-13, "b": 1, "r": 2}, {"m": 1824, "s": 6.2e-13, "b": 0, "r": 2}, {"m": 1860, "s": 5.7e-13, "b": 0, "r": 2}, {"m": 1896, "s": 6e-13, "b": 0, "r": 2}, {"m": 1932, "s": 6.2e-13, "b": 0, "r": 2}, {"m": 1968, "s": 6.8e-13, "b": 0, "r": 2}, {"m": 2005, "s": 7.1e-13, "b": 1, "r": 2}, {"m": 2041, "s": 7.1e-13, "b": 1, "r": 2},
      {"m": 1117, "s": 7.5e-13, "b": 0, "r": 1}, {"m": 1135, "s": 6.5e-13, "b": 0, "r": 1}, {"m": 1153, "s": 5.7e-13, "b": 0, "r": 1}, {"m": 1171, "s": 5.3e-13, "b": 0, "r": 1}, {"m": 1189, "s": 4.9e-13, "b": 0, "r": 1}, {"m": 1207, "s": 4.6e-13, "b": 0, "r": 1}, {"m": 1225, "s": 4.3e-13, "b": 0, "r": 1}, {"m": 1243, "s": 4.1e-13, "b": 0, "r": 1}, {"m": 1261, "s": 4e-13, "b": 0, "r": 1}, {"m": 1279, "s": 3.9e-13, "b": 0, "r": 1}, {"m": 1297, "s": 3.9e-13, "b": 0, "r": 1}, {"m": 1315, "s": 3.8e-13, "b": 0, "r": 1}, {"m": 1333, "s": 3.7e-13, "b": 0, "r": 1}, {"m": 1351, "s": 3.5e-13, "b": 0, "r": 1}, {"m": 1369, "s": 3.3e-13, "b": 0, "r": 1}, {"m": 1387, "s": 3.1e-13, "b": 0, "r": 1}, {"m": 1405, "s": 3e-13, "b": 0, "r": 1}, {"m": 1423, "s": 3e-13, "b": 0, "r": 1}, {"m": 1441, "s": 2.9e-13, "b": 0, "r": 1}, {"m": 1459, "s": 2.8e-13, "b": 0, "r": 1}, {"m": 1477, "s": 2.8e-13, "b": 0, "r": 1}, {"m": 1495, "s": 2.6e-13, "b": 0, "r": 1}, {"m": 1513, "s": 2.5e-13, "b": 0, "r": 1}, {"m": 1531, "s": 2.4e-13, "b": 0, "r": 1}, {"m": 1549, "s": 2.3e-13, "b": 0, "r": 1}, {"m": 1567, "s": 2.1e-13, "b": 0, "r": 1}, {"m": 1585, "s": 2e-13, "b": 0, "r": 1}, {"m": 1603, "s": 2e-13, "b": 0, "r": 1}, {"m": 1621, "s": 2.1e-13, "b": 0, "r": 1}, {"m": 1639, "s": 2.2e-13, "b": 0, "r": 1}, {"m": 1657, "s": 2.1e-13, "b": 0, "r": 1}, {"m": 1675, "s": 2.1e-13, "b": 0, "r": 1}, {"m": 1693, "s": 2.2e-13, "b": 0, "r": 1}, {"m": 1711, "s": 2.5e-13, "b": 0, "r": 1}, {"m": 1729, "s": 2.9e-13, "b": 0, "r": 2}, {"m": 1747, "s": 2.7e-13, "b": 0, "r": 2}, {"m": 1765, "s": 2.4e-13, "b": 0, "r": 2}, {"m": 1783, "s": 2.5e-13, "b": 0, "r": 2}, {"m": 1801, "s": 2.6e-13, "b": 0, "r": 2}, {"m": 1819, "s": 2.4e-13, "b": 0, "r": 2}, {"m": 1837, "s": 2.3e-13, "b": 0, "r": 2}, {"m": 1855, "s": 2.6e-13, "b": 0, "r": 2}, {"m": 1873, "s": 2.9e-13, "b": 0, "r": 2}, {"m": 1891, "s": 2.7e-13, "b": 0, "r": 2}, {"m": 1909, "s": 2.5e-13, "b": 0, "r": 2}, {"m": 1927, "s": 2.8e-13, "b": 0, "r": 2}, {"m": 1945, "s": 3e-13, "b": 0, "r": 2}, {"m": 1963, "s": 2.9e-13, "b": 0, "r": 2}, {"m": 1981, "s": 2.8e-13, "b": 0, "r": 2}, {"m": 1999, "s": 2.7e-13, "b": 0, "r": 2}, {"m": 2017, "s": 3.1e-13, "b": 0, "r": 2}, {"m": 2035, "s": 3e-13, "b": 0, "r": 2}, {"m": 2053, "s": 2.8e-13, "b": 0, "r": 2}, {"m": 2071, "s": 3e-13, "b": 0, "r": 2}, {"m": 2089, "s": 3.4e-13, "b": 0, "r": 2},
      {"m": 2137, "s": 4.3e-13, "b": 0, "r": 2}, {"m": 2173, "s": 4.9e-13, "b": 0, "r": 2}, {"m": 2209, "s": 5.2e-13, "b": 0, "r": 2}, {"m": 2245, "s": 5.7e-13, "b": 0, "r": 2}, {"m": 2281, "s": 5.4e-13, "b": 0, "r": 2}, {"m": 2305, "s": 5.6e-13, "b": 1, "r": 2}, {"m": 2317, "s": 5.2e-13, "b": 0, "r": 2}, {"m": 2377, "s": 4.9e-13, "b": 0, "r": 2}, {"m": 2406, "s": 4.5e-13, "b": 0, "r": 3}, {"m": 2425, "s": 4.5e-13, "b": 0, "r": 2}, {"m": 2497, "s": 4.3e-13, "b": 0, "r": 2}, {"m": 2533, "s": 4.3e-13, "b": 0, "r": 3}, {"m": 2545, "s": 4.7e-13, "b": 0, "r": 2}, {"m": 2593, "s": 3.7e-13, "b": 0, "r": 2}, {"m": 2641, "s": 3.2e-13, "b": 0, "r": 2}, {"m": 2689, "s": 3.2e-13, "b": 0, "r": 2}, {"m": 2737, "s": 2.8e-13, "b": 0, "r": 2}, {"m": 2785, "s": 2.4e-13, "b": 0, "r": 2},
      {"m": 2125, "s": 2.3e-13, "b": 0, "r": 3}, {"m": 2161, "s": 2.2e-13, "b": 0, "r": 2}, {"m": 2209, "s": 2.3e-13, "b": 0, "r": 2}, {"m": 2257, "s": 2.65e-13, "b": 0, "r": 2}, {"m": 2305, "s": 2.9e-13, "b": 0, "r": 2}, {"m": 2341, "s": 2e-13, "b": 0, "r": 2}, {"m": 2377, "s": 2.3e-13, "b": 0, "r": 2}, {"m": 2406, "s": 2.3e-13, "b": 0, "r": 3}, {"m": 2437, "s": 2.65e-13, "b": 0, "r": 2}, {"m": 2473, "s": 3.2e-13, "b": 0, "r": 3}, {"m": 2509, "s": 3.5e-13, "b": 0, "r": 3}, {"m": 2569, "s": 3.2e-13, "b": 0, "r": 2}, {"m": 2629, "s": 3.5e-13, "b": 0, "r": 3}, {"m": 2665, "s": 1.9e-13, "b": 0, "r": 2}, {"m": 2713, "s": 2.65e-13, "b": 0, "r": 2}, {"m": 2761, "s": 2.1e-13, "b": 0, "r": 2}, {"m": 2809, "s": 2.9e-13, "b": 0, "r": 3}, {"m": 2838, "s": 2.5e-13, "b": 0, "r": 2},
      {"m": 1796, "s": 1.5e-13, "b": 0, "r": 1}, {"m": 2053, "s": 4e-14, "b": 0, "r": 2}, {"m": 2509, "s": 1.4e-13, "b": 0, "r": 1}, {"m": 2581, "s": 1.5e-13, "b": 0, "r": 1}, {"m": 2809, "s": 1.07e-13, "b": 0, "r": 2}
    ]
  },
  "resolve": {"scale": {"color": "independent"}},
  "spacing": 24.5,
  "hconcat": [
    {
      "spacing": 25,
      "resolve": {"scale": {"color": "independent"}},
      "vconcat": [
        {
          "spacing": -36,
          "resolve": {"scale": {"color": "independent"}},
          "vconcat": [
            {"width": 444, "height": 1, "data": {"values": []}, "mark": {"type": "point"}, "encoding": {}, "view": {"stroke": null}},
            {
              "width": 444, "height": 275,
              "title": {"text": "tanβ=5, A₀/m₀=0, Mᵢₙ=Mɢᴜᴛ, μ>0", "offset": 8.5},
              "resolve": {"axis": {"x": "independent", "y": "independent"}},
              "layer": [
                {
                  "data": {"name": "scanL"},
                  "mark": {"type": "circle", "size": 36, "opacity": 1},
                  "encoding": {
                    "x": {"field": "m", "type": "quantitative", "scale": {"domain": [10, 1200], "nice": false, "zero": false}, "axis": {"orient": "bottom", "values": [200, 400, 600, 800, 1000, 1200], "format": "d", "tickSize": -6, "labelPadding": 5, "title": "mᵪ (GeV)", "titlePadding": 6}},
                    "y": {"field": "s", "type": "quantitative", "scale": {"type": "log", "domain": [1e-13, 1e-7], "nice": false}, "axis": {"orient": "left", "values": [1e-13, 1e-12, 1e-11, 1e-10, 1e-9, 1e-8, 1e-7], "tickSize": -6, "labelPadding": 6, "labelExpr": "datum.value < 3e-13 ? '10⁻¹³' : datum.value < 3e-12 ? '10⁻¹²' : datum.value < 3e-11 ? '10⁻¹¹' : datum.value < 3e-10 ? '10⁻¹⁰' : datum.value < 3e-9 ? '10⁻⁹' : datum.value < 3e-8 ? '10⁻⁸' : '10⁻⁷'", "title": "σₛᵢ (pb)", "titlePadding": 18}},
                    "color": {"field": "b", "type": "nominal", "scale": {"domain": [0, 1], "range": ["#dce9f6", "#2f7ebc"]}, "legend": null},
                    "order": {"field": "b"}
                  }
                },
                {
                  "data": {"name": "curves"},
                  "transform": [{"filter": "datum.c === 'floor'"}],
                  "mark": {"type": "line", "color": "#fdac5a", "strokeWidth": 9, "strokeDash": [28, 9], "clip": true},
                  "encoding": {
                    "x": {"field": "m", "type": "quantitative", "scale": {"domain": [10, 1200], "nice": false, "zero": false}, "axis": {"orient": "bottom", "values": [50, 100, 150, 250, 300, 350, 450, 500, 550, 650, 700, 750, 850, 900, 950, 1050, 1100, 1150], "tickSize": -3, "labels": false, "title": null}},
                    "y": {"field": "s", "type": "quantitative", "scale": {"type": "log", "domain": [1e-13, 1e-7], "nice": false}, "axis": {"orient": "left", "values": [2e-13, 3e-13, 4e-13, 5e-13, 6e-13, 7e-13, 8e-13, 9e-13, 2e-12, 3e-12, 4e-12, 5e-12, 6e-12, 7e-12, 8e-12, 9e-12, 2e-11, 3e-11, 4e-11, 5e-11, 6e-11, 7e-11, 8e-11, 9e-11, 2e-10, 3e-10, 4e-10, 5e-10, 6e-10, 7e-10, 8e-10, 9e-10, 2e-9, 3e-9, 4e-9, 5e-9, 6e-9, 7e-9, 8e-9, 9e-9, 2e-8, 3e-8, 4e-8, 5e-8, 6e-8, 7e-8, 8e-8, 9e-8], "tickSize": -3, "labels": false, "title": null}}
                  }
                },
                {
                  "data": {"name": "curves"},
                  "transform": [{"filter": "datum.c === 'proj'"}],
                  "mark": {"type": "line", "color": "black", "strokeWidth": 3, "strokeDash": [9, 5], "clip": true},
                  "encoding": {
                    "x": {"field": "m", "type": "quantitative", "scale": {"domain": [10, 1200], "nice": false, "zero": false}, "axis": {"orient": "top", "values": [200, 400, 600, 800, 1000, 1200], "tickSize": -6, "labels": false, "title": null}},
                    "y": {"field": "s", "type": "quantitative", "scale": {"type": "log", "domain": [1e-13, 1e-7], "nice": false}, "axis": {"orient": "right", "values": [1e-13, 1e-12, 1e-11, 1e-10, 1e-9, 1e-8, 1e-7], "tickSize": -6, "labels": false, "title": null}}
                  }
                },
                {
                  "data": {"name": "curves"},
                  "transform": [{"filter": "datum.c === 'limit'"}],
                  "mark": {"type": "line", "color": "black", "strokeWidth": 3, "clip": true},
                  "encoding": {
                    "x": {"field": "m", "type": "quantitative", "scale": {"domain": [10, 1200], "nice": false, "zero": false}, "axis": {"orient": "top", "values": [50, 100, 150, 250, 300, 350, 450, 500, 550, 650, 700, 750, 850, 900, 950, 1050, 1100, 1150], "tickSize": -3, "labels": false, "title": null}},
                    "y": {"field": "s", "type": "quantitative", "scale": {"type": "log", "domain": [1e-13, 1e-7], "nice": false}, "axis": {"orient": "right", "values": [2e-13, 3e-13, 4e-13, 5e-13, 6e-13, 7e-13, 8e-13, 9e-13, 2e-12, 3e-12, 4e-12, 5e-12, 6e-12, 7e-12, 8e-12, 9e-12, 2e-11, 3e-11, 4e-11, 5e-11, 6e-11, 7e-11, 8e-11, 9e-11, 2e-10, 3e-10, 4e-10, 5e-10, 6e-10, 7e-10, 8e-10, 9e-10, 2e-9, 3e-9, 4e-9, 5e-9, 6e-9, 7e-9, 8e-9, 9e-9, 2e-8, 3e-8, 4e-8, 5e-8, 6e-8, 7e-8, 8e-8, 9e-8], "tickSize": -3, "labels": false, "title": null}}
                  }
                }
              ]
            }
          ]
        },
        {
          "width": 444, "height": 275,
          "title": {"text": "tanβ=5, A₀/m₀=0, Mᵢₙ=Mɢᴜᴛ, μ>0", "offset": 8.5},
          "resolve": {"axis": {"x": "independent", "y": "independent"}},
          "layer": [
            {
              "data": {"name": "scanL"},
              "mark": {"type": "circle", "size": 36, "opacity": 1},
              "encoding": {
                "x": {"field": "m", "type": "quantitative", "scale": {"domain": [10, 1200], "nice": false, "zero": false}, "axis": {"orient": "bottom", "values": [200, 400, 600, 800, 1000, 1200], "format": "d", "tickSize": -6, "labelPadding": 5, "title": "mᵪ (GeV)", "titlePadding": 6}},
                "y": {"field": "s", "type": "quantitative", "scale": {"type": "log", "domain": [1e-13, 1e-7], "nice": false}, "axis": {"orient": "left", "values": [1e-13, 1e-12, 1e-11, 1e-10, 1e-9, 1e-8, 1e-7], "tickSize": -6, "labelPadding": 6, "labelExpr": "datum.value < 3e-13 ? '10⁻¹³' : datum.value < 3e-12 ? '10⁻¹²' : datum.value < 3e-11 ? '10⁻¹¹' : datum.value < 3e-10 ? '10⁻¹⁰' : datum.value < 3e-9 ? '10⁻⁹' : datum.value < 3e-8 ? '10⁻⁸' : '10⁻⁷'", "title": "σₛᵢ (pb)", "titlePadding": 18}},
                "color": {"field": "r", "type": "nominal", "scale": {"domain": [1, 2, 3], "range": ["#fddccb", "#fb9072", "#d9281f"]}, "legend": null},
                "order": {"field": "r"}
              }
            },
            {
              "data": {"name": "curves"},
              "transform": [{"filter": "datum.c === 'floor'"}],
              "mark": {"type": "line", "color": "#fdac5a", "strokeWidth": 9, "strokeDash": [28, 9], "clip": true},
              "encoding": {
                "x": {"field": "m", "type": "quantitative", "scale": {"domain": [10, 1200], "nice": false, "zero": false}, "axis": {"orient": "bottom", "values": [50, 100, 150, 250, 300, 350, 450, 500, 550, 650, 700, 750, 850, 900, 950, 1050, 1100, 1150], "tickSize": -3, "labels": false, "title": null}},
                "y": {"field": "s", "type": "quantitative", "scale": {"type": "log", "domain": [1e-13, 1e-7], "nice": false}, "axis": {"orient": "left", "values": [2e-13, 3e-13, 4e-13, 5e-13, 6e-13, 7e-13, 8e-13, 9e-13, 2e-12, 3e-12, 4e-12, 5e-12, 6e-12, 7e-12, 8e-12, 9e-12, 2e-11, 3e-11, 4e-11, 5e-11, 6e-11, 7e-11, 8e-11, 9e-11, 2e-10, 3e-10, 4e-10, 5e-10, 6e-10, 7e-10, 8e-10, 9e-10, 2e-9, 3e-9, 4e-9, 5e-9, 6e-9, 7e-9, 8e-9, 9e-9, 2e-8, 3e-8, 4e-8, 5e-8, 6e-8, 7e-8, 8e-8, 9e-8], "tickSize": -3, "labels": false, "title": null}}
              }
            },
            {
              "data": {"name": "curves"},
              "transform": [{"filter": "datum.c === 'proj'"}],
              "mark": {"type": "line", "color": "black", "strokeWidth": 3, "strokeDash": [9, 5], "clip": true},
              "encoding": {
                "x": {"field": "m", "type": "quantitative", "scale": {"domain": [10, 1200], "nice": false, "zero": false}, "axis": {"orient": "top", "values": [200, 400, 600, 800, 1000, 1200], "tickSize": -6, "labels": false, "title": null}},
                "y": {"field": "s", "type": "quantitative", "scale": {"type": "log", "domain": [1e-13, 1e-7], "nice": false}, "axis": {"orient": "right", "values": [1e-13, 1e-12, 1e-11, 1e-10, 1e-9, 1e-8, 1e-7], "tickSize": -6, "labels": false, "title": null}}
              }
            },
            {
              "data": {"name": "curves"},
              "transform": [{"filter": "datum.c === 'limit'"}],
              "mark": {"type": "line", "color": "black", "strokeWidth": 3, "clip": true},
              "encoding": {
                "x": {"field": "m", "type": "quantitative", "scale": {"domain": [10, 1200], "nice": false, "zero": false}, "axis": {"orient": "top", "values": [50, 100, 150, 250, 300, 350, 450, 500, 550, 650, 700, 750, 850, 900, 950, 1050, 1100, 1150], "tickSize": -3, "labels": false, "title": null}},
                "y": {"field": "s", "type": "quantitative", "scale": {"type": "log", "domain": [1e-13, 1e-7], "nice": false}, "axis": {"orient": "right", "values": [2e-13, 3e-13, 4e-13, 5e-13, 6e-13, 7e-13, 8e-13, 9e-13, 2e-12, 3e-12, 4e-12, 5e-12, 6e-12, 7e-12, 8e-12, 9e-12, 2e-11, 3e-11, 4e-11, 5e-11, 6e-11, 7e-11, 8e-11, 9e-11, 2e-10, 3e-10, 4e-10, 5e-10, 6e-10, 7e-10, 8e-10, 9e-10, 2e-9, 3e-9, 4e-9, 5e-9, 6e-9, 7e-9, 8e-9, 9e-9, 2e-8, 3e-8, 4e-8, 5e-8, 6e-8, 7e-8, 8e-8, 9e-8], "tickSize": -3, "labels": false, "title": null}}
              }
            }
          ]
        }
      ]
    },
    {
      "spacing": 28,
      "resolve": {"scale": {"color": "independent"}},
      "vconcat": [
        {
          "width": 459, "height": 284,
          "title": {"text": "tanβ=5, A₀/m₀=2.3, Mᵢₙ=Mɢᴜᴛ, μ>0", "offset": -6, "dy": 3},
          "resolve": {"axis": {"x": "independent", "y": "independent"}},
          "layer": [
            {
              "data": {"name": "scanR"},
              "mark": {"type": "circle", "size": 36, "opacity": 1},
              "encoding": {
                "x": {"field": "m", "type": "quantitative", "scale": {"domain": [10, 3000], "nice": false, "zero": false}, "axis": {"orient": "bottom", "values": [500, 1000, 1500, 2000, 2500, 3000], "format": "d", "tickSize": -6, "labelPadding": 5, "title": "mᵪ (GeV)", "titlePadding": 6}},
                "y": {"field": "s", "type": "quantitative", "scale": {"type": "log", "domain": [1e-14, 1e-7], "nice": false}, "axis": {"orient": "left", "values": [1e-14, 1e-13, 1e-12, 1e-11, 1e-10, 1e-9, 1e-8, 1e-7], "tickSize": -6, "labelPadding": 6, "labelExpr": "datum.value < 3e-14 ? '10⁻¹⁴' : (datum.value < 3e-12 && datum.value > 3e-13) ? '10⁻¹²' : (datum.value < 3e-10 && datum.value > 3e-11) ? '10⁻¹⁰' : (datum.value < 3e-8 && datum.value > 3e-9) ? '10⁻⁸' : ''", "title": "σₛᵢ (pb)", "titlePadding": 18}},
                "color": {"field": "b", "type": "nominal", "scale": {"domain": [0, 1], "range": ["#dce9f6", "#2f7ebc"]}, "legend": null},
                "order": {"field": "b"}
              }
            },
            {
              "data": {"name": "curves"},
              "transform": [{"filter": "datum.c === 'floor'"}],
              "mark": {"type": "line", "color": "#fdac5a", "strokeWidth": 9, "strokeDash": [28, 9], "clip": true},
              "encoding": {
                "x": {"field": "m", "type": "quantitative", "scale": {"domain": [10, 3000], "nice": false, "zero": false}, "axis": {"orient": "bottom", "values": [100, 200, 300, 400, 600, 700, 800, 900, 1100, 1200, 1300, 1400, 1600, 1700, 1800, 1900, 2100, 2200, 2300, 2400, 2600, 2700, 2800, 2900], "tickSize": -3, "labels": false, "title": null}},
                "y": {"field": "s", "type": "quantitative", "scale": {"type": "log", "domain": [1e-14, 1e-7], "nice": false}, "axis": {"orient": "left", "values": [2e-14, 3e-14, 4e-14, 5e-14, 6e-14, 7e-14, 8e-14, 9e-14, 2e-13, 3e-13, 4e-13, 5e-13, 6e-13, 7e-13, 8e-13, 9e-13, 2e-12, 3e-12, 4e-12, 5e-12, 6e-12, 7e-12, 8e-12, 9e-12, 2e-11, 3e-11, 4e-11, 5e-11, 6e-11, 7e-11, 8e-11, 9e-11, 2e-10, 3e-10, 4e-10, 5e-10, 6e-10, 7e-10, 8e-10, 9e-10, 2e-9, 3e-9, 4e-9, 5e-9, 6e-9, 7e-9, 8e-9, 9e-9, 2e-8, 3e-8, 4e-8, 5e-8, 6e-8, 7e-8, 8e-8, 9e-8], "tickSize": -3, "labels": false, "title": null}}
              }
            },
            {
              "data": {"name": "curves"},
              "transform": [{"filter": "datum.c === 'proj'"}],
              "mark": {"type": "line", "color": "black", "strokeWidth": 3, "strokeDash": [9, 5], "clip": true},
              "encoding": {
                "x": {"field": "m", "type": "quantitative", "scale": {"domain": [10, 3000], "nice": false, "zero": false}, "axis": {"orient": "top", "values": [500, 1000, 1500, 2000, 2500, 3000], "tickSize": -6, "labels": false, "title": null}},
                "y": {"field": "s", "type": "quantitative", "scale": {"type": "log", "domain": [1e-14, 1e-7], "nice": false}, "axis": {"orient": "right", "values": [1e-14, 1e-13, 1e-12, 1e-11, 1e-10, 1e-9, 1e-8, 1e-7], "tickSize": -6, "labels": false, "title": null}}
              }
            },
            {
              "data": {"name": "curves"},
              "transform": [{"filter": "datum.c === 'limit'"}],
              "mark": {"type": "line", "color": "black", "strokeWidth": 3, "clip": true},
              "encoding": {
                "x": {"field": "m", "type": "quantitative", "scale": {"domain": [10, 3000], "nice": false, "zero": false}, "axis": {"orient": "top", "values": [100, 200, 300, 400, 600, 700, 800, 900, 1100, 1200, 1300, 1400, 1600, 1700, 1800, 1900, 2100, 2200, 2300, 2400, 2600, 2700, 2800, 2900], "tickSize": -3, "labels": false, "title": null}},
                "y": {"field": "s", "type": "quantitative", "scale": {"type": "log", "domain": [1e-14, 1e-7], "nice": false}, "axis": {"orient": "right", "values": [2e-14, 3e-14, 4e-14, 5e-14, 6e-14, 7e-14, 8e-14, 9e-14, 2e-13, 3e-13, 4e-13, 5e-13, 6e-13, 7e-13, 8e-13, 9e-13, 2e-12, 3e-12, 4e-12, 5e-12, 6e-12, 7e-12, 8e-12, 9e-12, 2e-11, 3e-11, 4e-11, 5e-11, 6e-11, 7e-11, 8e-11, 9e-11, 2e-10, 3e-10, 4e-10, 5e-10, 6e-10, 7e-10, 8e-10, 9e-10, 2e-9, 3e-9, 4e-9, 5e-9, 6e-9, 7e-9, 8e-9, 9e-9, 2e-8, 3e-8, 4e-8, 5e-8, 6e-8, 7e-8, 8e-8, 9e-8], "tickSize": -3, "labels": false, "title": null}}
              }
            }
          ]
        },
        {
          "width": 459, "height": 284,
          "title": {"text": "tanβ=5, A₀/m₀=2.3, Mᵢₙ=Mɢᴜᴛ, μ>0", "offset": -6, "dy": 3},
          "resolve": {"axis": {"x": "independent", "y": "independent"}},
          "layer": [
            {
              "data": {"name": "scanR"},
              "mark": {"type": "circle", "size": 36, "opacity": 1},
              "encoding": {
                "x": {"field": "m", "type": "quantitative", "scale": {"domain": [10, 3000], "nice": false, "zero": false}, "axis": {"orient": "bottom", "values": [500, 1000, 1500, 2000, 2500, 3000], "format": "d", "tickSize": -6, "labelPadding": 5, "title": "mᵪ (GeV)", "titlePadding": 6}},
                "y": {"field": "s", "type": "quantitative", "scale": {"type": "log", "domain": [1e-14, 1e-7], "nice": false}, "axis": {"orient": "left", "values": [1e-14, 1e-13, 1e-12, 1e-11, 1e-10, 1e-9, 1e-8, 1e-7], "tickSize": -6, "labelPadding": 6, "labelExpr": "datum.value < 3e-14 ? '10⁻¹⁴' : (datum.value < 3e-12 && datum.value > 3e-13) ? '10⁻¹²' : (datum.value < 3e-10 && datum.value > 3e-11) ? '10⁻¹⁰' : (datum.value < 3e-8 && datum.value > 3e-9) ? '10⁻⁸' : ''", "title": "σₛᵢ (pb)", "titlePadding": 18}},
                "color": {"field": "r", "type": "nominal", "scale": {"domain": [1, 2, 3], "range": ["#fddccb", "#fb9072", "#d9281f"]}, "legend": null},
                "order": {"field": "r"}
              }
            },
            {
              "data": {"name": "curves"},
              "transform": [{"filter": "datum.c === 'floor'"}],
              "mark": {"type": "line", "color": "#fdac5a", "strokeWidth": 9, "strokeDash": [28, 9], "clip": true},
              "encoding": {
                "x": {"field": "m", "type": "quantitative", "scale": {"domain": [10, 3000], "nice": false, "zero": false}, "axis": {"orient": "bottom", "values": [100, 200, 300, 400, 600, 700, 800, 900, 1100, 1200, 1300, 1400, 1600, 1700, 1800, 1900, 2100, 2200, 2300, 2400, 2600, 2700, 2800, 2900], "tickSize": -3, "labels": false, "title": null}},
                "y": {"field": "s", "type": "quantitative", "scale": {"type": "log", "domain": [1e-14, 1e-7], "nice": false}, "axis": {"orient": "left", "values": [2e-14, 3e-14, 4e-14, 5e-14, 6e-14, 7e-14, 8e-14, 9e-14, 2e-13, 3e-13, 4e-13, 5e-13, 6e-13, 7e-13, 8e-13, 9e-13, 2e-12, 3e-12, 4e-12, 5e-12, 6e-12, 7e-12, 8e-12, 9e-12, 2e-11, 3e-11, 4e-11, 5e-11, 6e-11, 7e-11, 8e-11, 9e-11, 2e-10, 3e-10, 4e-10, 5e-10, 6e-10, 7e-10, 8e-10, 9e-10, 2e-9, 3e-9, 4e-9, 5e-9, 6e-9, 7e-9, 8e-9, 9e-9, 2e-8, 3e-8, 4e-8, 5e-8, 6e-8, 7e-8, 8e-8, 9e-8], "tickSize": -3, "labels": false, "title": null}}
              }
            },
            {
              "data": {"name": "curves"},
              "transform": [{"filter": "datum.c === 'proj'"}],
              "mark": {"type": "line", "color": "black", "strokeWidth": 3, "strokeDash": [9, 5], "clip": true},
              "encoding": {
                "x": {"field": "m", "type": "quantitative", "scale": {"domain": [10, 3000], "nice": false, "zero": false}, "axis": {"orient": "top", "values": [500, 1000, 1500, 2000, 2500, 3000], "tickSize": -6, "labels": false, "title": null}},
                "y": {"field": "s", "type": "quantitative", "scale": {"type": "log", "domain": [1e-14, 1e-7], "nice": false}, "axis": {"orient": "right", "values": [1e-14, 1e-13, 1e-12, 1e-11, 1e-10, 1e-9, 1e-8, 1e-7], "tickSize": -6, "labels": false, "title": null}}
              }
            },
            {
              "data": {"name": "curves"},
              "transform": [{"filter": "datum.c === 'limit'"}],
              "mark": {"type": "line", "color": "black", "strokeWidth": 3, "clip": true},
              "encoding": {
                "x": {"field": "m", "type": "quantitative", "scale": {"domain": [10, 3000], "nice": false, "zero": false}, "axis": {"orient": "top", "values": [100, 200, 300, 400, 600, 700, 800, 900, 1100, 1200, 1300, 1400, 1600, 1700, 1800, 1900, 2100, 2200, 2300, 2400, 2600, 2700, 2800, 2900], "tickSize": -3, "labels": false, "title": null}},
                "y": {"field": "s", "type": "quantitative", "scale": {"type": "log", "domain": [1e-14, 1e-7], "nice": false}, "axis": {"orient": "right", "values": [2e-14, 3e-14, 4e-14, 5e-14, 6e-14, 7e-14, 8e-14, 9e-14, 2e-13, 3e-13, 4e-13, 5e-13, 6e-13, 7e-13, 8e-13, 9e-13, 2e-12, 3e-12, 4e-12, 5e-12, 6e-12, 7e-12, 8e-12, 9e-12, 2e-11, 3e-11, 4e-11, 5e-11, 6e-11, 7e-11, 8e-11, 9e-11, 2e-10, 3e-10, 4e-10, 5e-10, 6e-10, 7e-10, 8e-10, 9e-10, 2e-9, 3e-9, 4e-9, 5e-9, 6e-9, 7e-9, 8e-9, 9e-9, 2e-8, 3e-8, 4e-8, 5e-8, 6e-8, 7e-8, 8e-8, 9e-8], "tickSize": -3, "labels": false, "title": null}}
              }
            }
          ]
        }
      ]
    }
  ]
}
